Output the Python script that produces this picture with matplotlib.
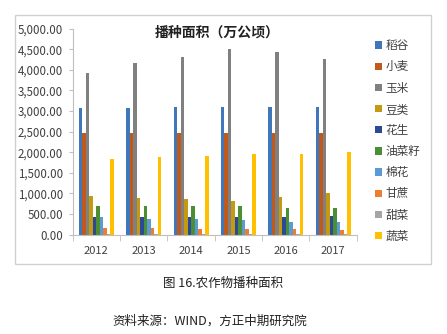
import matplotlib
matplotlib.use('Agg')
import matplotlib.pyplot as plt
import numpy as np
from matplotlib.patches import Rectangle
from matplotlib.ticker import FuncFormatter

plt.rcParams['font.family'] = ['Noto Sans CJK SC', 'DejaVu Sans']

# 数据（万公顷）
years = ['2012', '2013', '2014', '2015', '2016', '2017']
crops = ['稻谷', '小麦', '玉米', '豆类', '花生', '油菜籽', '棉花', '甘蔗', '甜菜', '蔬菜']
rice = [3068, 3075, 3090, 3092, 3092, 3090]
wheat = [2460, 2460, 2460, 2460, 2460, 2460]
corn = [3932, 4160, 4313, 4507, 4427, 4257]
beans = [939, 883, 866, 826, 922, 1005]
peanut = [422, 422, 422, 422, 437, 454]
rapeseed = [704, 704, 704, 697, 648, 648]
cotton = [422, 388, 388, 357, 308, 308]
sugarcane = [155, 155, 138, 131, 131, 114]
beet = [20, 20, 18, 15, 18, 20]
vegetables = [1845, 1886, 1917, 1959, 1959, 2007]
series = [rice, wheat, corn, beans, peanut, rapeseed, cotton, sugarcane, beet, vegetables]

colors = ['#3F77BA', '#C0591C', '#808080', '#C49A12', '#2B4A95', '#4B8E34',
          '#5B9BD5', '#ED7D31', '#A5A5A5', '#FFC000']

fig = plt.figure(figsize=(4.47, 3.34), dpi=100)
fig.patch.set_facecolor('white')

# 外框
fig.patches.append(Rectangle((0.0336, 0.2096), 0.9306, 0.7455, transform=fig.transFigure,
                             fill=False, edgecolor='#D0D0D0', linewidth=1.0))

ax = fig.add_axes([0.1626, 0.2973, 0.6354, 0.6168])
x = np.arange(len(years))
w = 0.074
for i, (name, vals) in enumerate(zip(crops, series)):
    ax.bar(x + (i - 4.5) * w, vals, width=w, color=colors[i], label=name, linewidth=0)

ax.set_xlim(-0.5, len(years) - 0.5)
ax.set_ylim(0, 5000)
ax.set_yticks(np.arange(0, 5001, 500))
ax.yaxis.set_major_formatter(FuncFormatter(lambda v, p: f'{v:,.2f}'))
ax.set_xticks(x)
ax.set_xticklabels(years)
ax.set_xticks(np.arange(-0.5, len(years), 1), minor=True)
ax.tick_params(axis='x', which='major', length=0, labelsize=8, colors='#404040', pad=8)
ax.tick_params(axis='x', which='minor', length=4, color='#BFBFBF', direction='out')
ax.tick_params(axis='y', length=3, color='#BFBFBF', labelsize=8.3, colors='#404040', pad=4)
for s in ['top', 'right']:
    ax.spines[s].set_visible(False)
for s in ['left', 'bottom']:
    ax.spines[s].set_color('#BFBFBF')
    ax.spines[s].set_linewidth(0.8)

fig.text(0.486, 0.901, '播种面积（万公顷）', ha='center', va='center',
         fontsize=10, fontweight='bold', color='#202020')

fig.legend(loc='upper left', bbox_to_anchor=(0.826, 0.9), frameon=False,
           fontsize=8.4, handlelength=0.6, handleheight=0.6, handletextpad=0.3,
           labelspacing=0.7, borderpad=0, labelcolor='#404040')

fig.text(0.499, 0.150, '图 16.农作物播种面积', ha='center', va='center', fontsize=9, color='#202020')
fig.text(0.47, 0.039, '资料来源：WIND，方正中期研究院', ha='center', va='center', fontsize=9, color='#202020')

fig.savefig('out.png', dpi=100)
